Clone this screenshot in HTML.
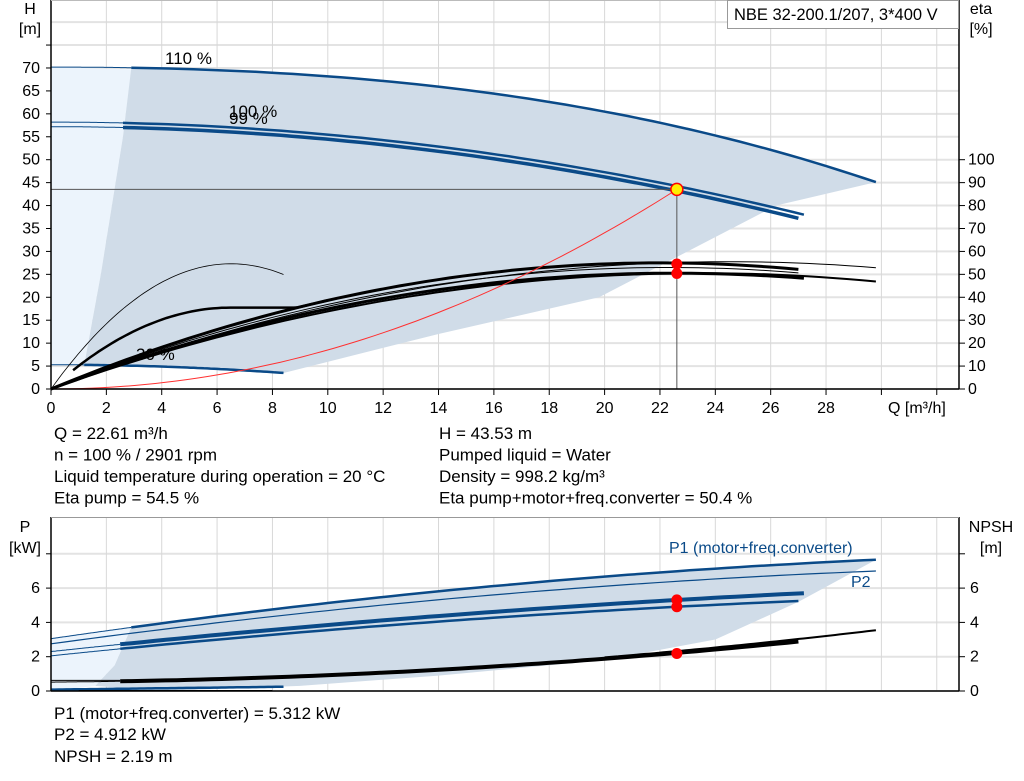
<!DOCTYPE html>
<html><head><meta charset="utf-8">
<style>
html,body{margin:0;padding:0;background:#fff;}
svg{display:block;font-family:"Liberation Sans",Arial,sans-serif;}
</style></head><body>
<svg id="s" width="1024" height="781" xmlns="http://www.w3.org/2000/svg"></svg>
<script>
var S=document.getElementById('s');var o='';
function X(q){return 51+27.68*q;}
function Y(h){return 389-4.586*h;}
function E(e){return 389-2.293*e;}
function P(p){return 691-17.15*p;}
function path(f,a,b,yf,st,w){var d='';var n=60;for(var i=0;i<=n;i++){var q=a+(b-a)*i/n;d+=(i?'L':'M')+X(q).toFixed(1)+','+yf(f(q)).toFixed(1);}o+='<path d="'+d+'" fill="none" stroke="'+st+'" stroke-width="'+w+'"/>';}
function pts(f,a,b,yf){var r=[];for(var i=0;i<=40;i++){var q=a+(b-a)*i/40;r.push(X(q).toFixed(1)+','+yf(f(q)).toFixed(1));}return r;}
function txt(x,y,t,sz,anc,col){o+='<text x="'+x+'" y="'+y+'" font-size="'+sz+'" text-anchor="'+(anc||'start')+'" fill="'+(col||'#000')+'">'+t+'</text>';}
var TK=16,TX=17;
for(var h=0;h<=85;h+=5){o+='<line x1="51" x2="959" y1="'+Y(h)+'" y2="'+Y(h)+'" stroke="#e3e3e3" stroke-width="2"/>';}
for(var q=2;q<=32;q+=2){o+='<line x1="'+X(q)+'" x2="'+X(q)+'" y1="0" y2="389" stroke="#d8d8d8" stroke-width="1"/>';}
var h110=function(q){return 70.2-0.000407*q*q*q-0.01613*q*q;};
var h100=function(q){return 58.2-0.0273*q*q;};
var h99=function(q){return 57.2-0.0274*q*q;};
var h30=function(q){return 5.3-0.0255*q*q;};
o+='<polygon points="'+X(0)+','+Y(70.2)+' '+X(2.9)+','+Y(69.7)+' '+X(2.6)+','+Y(55)+' '+X(1.8)+','+Y(25)+' '+X(1.2)+','+Y(5.4)+' '+X(0)+','+Y(5.3)+'" fill="#ecf4fc"/>';
var poly=pts(h110,2.9,29.8,Y);
poly.push(X(26.2)+','+Y(40));poly.push(X(19.8)+','+Y(20));poly.push(X(14)+','+Y(12));poly.push(X(8.4)+','+Y(3.5));
poly=poly.concat(pts(h30,8.4,1.2,Y));poly.push(X(1.8)+','+Y(25));poly.push(X(2.6)+','+Y(55));
o+='<polygon points="'+poly.join(' ')+'" fill="#d0dce8"/>';
path(h110,0,2.9,Y,'#0a4a88',1);path(h110,2.9,29.8,Y,'#0a4a88',2.5);
path(h100,0,2.6,Y,'#0a4a88',1);path(h100,2.6,27.2,Y,'#0a4a88',2.5);
path(h99,0,2.6,Y,'#0a4a88',1);path(h99,2.6,27,Y,'#0a4a88',3.5);
path(h30,0,1.2,Y,'#0a4a88',1);path(h30,1.2,8.4,Y,'#0a4a88',2.5);
function ef(Em,qm){return function(q){var t=1-q/qm;return Em*(1-t*t);};}
path(ef(55,22),0,27,E,'#000',3);
path(ef(50.5,22.5),0,27.2,E,'#000',3);
path(ef(55.5,24.5),0,29.8,E,'#000',1);
path(ef(50.5,23.5),0,29.8,E,'#000',2);
path(ef(53,22.3),0,27,E,'#000',1);
path(ef(54.6,6.5),0,8.4,E,'#000',0.8);
var m=ef(55,22);
path(function(q){if(q<=6.5){var t=1-q/6.5;return 35.5*(1-t*t);}return Math.max(35.5,m(q));},0.8,10,E,'#000',2.5);
path(function(q){return 43.53*(q/22.61)*(q/22.61);},0,22.61,Y,'#ff3030',1);
o+='<line x1="51" x2="'+X(22.61)+'" y1="'+Y(43.53)+'" y2="'+Y(43.53)+'" stroke="#555" stroke-width="1"/>';
o+='<line x1="'+X(22.61)+'" x2="'+X(22.61)+'" y1="'+Y(43.53)+'" y2="389" stroke="#555" stroke-width="1"/>';
o+='<circle cx="'+X(22.61)+'" cy="'+E(54.5)+'" r="5.5" fill="#f00"/><circle cx="'+X(22.61)+'" cy="'+E(50.4)+'" r="5.5" fill="#f00"/>';
o+='<circle cx="'+X(22.61)+'" cy="'+Y(43.53)+'" r="6" fill="#ffee00" stroke="#f00" stroke-width="1.5"/>';
txt(165,64,'110 %',TX);txt(229,117,'100 %',TX);txt(229,124,'99 %',TX);txt(136,360,'30 %',TX);
o+='<line x1="51" x2="51" y1="0" y2="389" stroke="#000" stroke-width="1.5"/>';
o+='<line x1="959" x2="959" y1="0" y2="389" stroke="#000" stroke-width="1.5"/>';
o+='<line x1="51" x2="959" y1="389" y2="389" stroke="#000" stroke-width="1.5"/>';
o+='<line x1="51" x2="959" y1="0.5" y2="0.5" stroke="#bbb" stroke-width="1"/>';
for(var h=0;h<=75;h+=5){o+='<line x1="46" x2="51" y1="'+Y(h)+'" y2="'+Y(h)+'" stroke="#000"/>';if(h<=70)txt(40,Y(h)+5,h,TK,'end');}
for(var e=0;e<=100;e+=10){o+='<line x1="959" x2="965" y1="'+E(e)+'" y2="'+E(e)+'" stroke="#000"/>';txt(968,E(e)+5,e,TK);}
for(var q=0;q<=32;q+=2){o+='<line x1="'+X(q)+'" x2="'+X(q)+'" y1="389" y2="395" stroke="#000"/>';if(q<=28)txt(X(q),413,q,TK,'middle');}
txt(888,413,'Q [m³/h]',TK);
txt(30,14,'H',TK,'middle');txt(30,34,'[m]',TK,'middle');
txt(981,14,'eta',TK,'middle');txt(981,34,'[%]',TK,'middle');
o+='<rect x="727.5" y="0.5" width="231" height="28" fill="#fff" stroke="#999"/>';
txt(734,20,'NBE 32-200.1/207, 3*400 V',16.5);
var L=['Q = 22.61 m³/h','n = 100 % / 2901 rpm','Liquid temperature during operation = 20 °C','Eta pump = 54.5 %'];
var R=['H = 43.53 m','Pumped liquid = Water','Density = 998.2 kg/m³','Eta pump+motor+freq.converter = 50.4 %'];
for(var i=0;i<4;i++){txt(54,439+21.5*i,L[i],TX);txt(439,439+21.5*i,R[i],TX);}
for(var p=0;p<=8;p+=2){o+='<line x1="51" x2="959" y1="'+P(p)+'" y2="'+P(p)+'" stroke="#e3e3e3" stroke-width="2"/>';}
for(var q=2;q<=32;q+=2){o+='<line x1="'+X(q)+'" x2="'+X(q)+'" y1="517" y2="691" stroke="#d8d8d8"/>';}
var p1t=function(q){return 3.05+0.235*q-0.0027*q*q;};
var p2t=function(q){return 2.75+0.22*q-0.0026*q*q;};
o+='<polygon points="'+X(0)+','+P(3.05)+' '+X(2.9)+','+P(p1t(2.9))+' '+X(2.3)+','+P(1.5)+' '+X(1.6)+','+P(0.3)+' '+X(0)+','+P(0)+'" fill="#ecf4fc"/>';
var pb=pts(p1t,2.9,29.8,P);pb.push(X(27)+','+P(5.2));pb.push(X(24)+','+P(3.0));pb.push(X(20)+','+P(1.8));pb.push(X(14)+','+P(0.9));pb.push(X(9)+','+P(0.3));pb.push(X(4)+','+P(0));pb.push(X(1.6)+','+P(0.3));pb.push(X(2.3)+','+P(1.5));
o+='<polygon points="'+pb.join(' ')+'" fill="#d0dce8"/>';
path(p1t,0,2.9,P,'#0a4a88',1);path(p1t,2.9,29.8,P,'#0a4a88',2.5);
path(p2t,0,29.8,P,'#0a4a88',1.2);
var p1=function(q){return 2.3+0.1724*q-0.00174*q*q;};
var p2=function(q){return 2.05+0.1686*q-0.00186*q*q;};
path(p1,0,2.5,P,'#0a4a88',1);path(p1,2.5,27.2,P,'#0a4a88',4);
path(p2,0,2.5,P,'#0a4a88',1);path(p2,2.5,27,P,'#0a4a88',2.5);
var np=function(q){return 0.52+0.012*q+0.0028*q*q;};
o+='<line x1="51" x2="'+X(2.5)+'" y1="'+P(0.62)+'" y2="'+P(0.62)+'" stroke="#000"/>';
path(np,0,2.5,P,'#000',1);path(np,2.5,27,P,'#000',4);
path(function(q){return 0.52+0.012*q+0.003*q*q;},20,29.8,P,'#000',2);
path(function(q){return 0.08+0.02*q;},0,8.4,P,'#0a4a88',2.5);
path(function(q){return 0.02;},1,8,P,'#000',1.5);
o+='<circle cx="'+X(22.61)+'" cy="'+P(5.312)+'" r="5.5" fill="#f00"/><circle cx="'+X(22.61)+'" cy="'+P(4.912)+'" r="5.5" fill="#f00"/><circle cx="'+X(22.61)+'" cy="'+P(2.19)+'" r="5.5" fill="#f00"/>';
txt(669,553,'P1 (motor+freq.converter)',TK,'start','#0a4a88');txt(851,587,'P2',TK,'start','#0a4a88');
o+='<line x1="51" x2="51" y1="517" y2="691" stroke="#000" stroke-width="1.5"/>';
o+='<line x1="959" x2="959" y1="517" y2="691" stroke="#000" stroke-width="1.5"/>';
o+='<line x1="51" x2="959" y1="691" y2="691" stroke="#000" stroke-width="1.5"/>';
o+='<line x1="51" x2="959" y1="517.5" y2="517.5" stroke="#999" stroke-width="1"/>';
for(var p=0;p<=8;p+=2){o+='<line x1="46" x2="51" y1="'+P(p)+'" y2="'+P(p)+'" stroke="#000"/><line x1="959" x2="965" y1="'+P(p)+'" y2="'+P(p)+'" stroke="#000"/>';if(p<8){txt(40,P(p)+5,p,TK,'end');txt(970,P(p)+5,p,TK);}}
txt(25,532,'P',TK,'middle');txt(25,553,'[kW]',TK,'middle');
txt(991,532,'NPSH',TK,'middle');txt(991,553,'[m]',TK,'middle');
txt(54,719,'P1 (motor+freq.converter) = 5.312 kW',TX);
txt(54,740,'P2 = 4.912 kW',TX);
txt(54,762,'NPSH = 2.19 m',TX);
S.innerHTML=o;
</script>
</body></html>
